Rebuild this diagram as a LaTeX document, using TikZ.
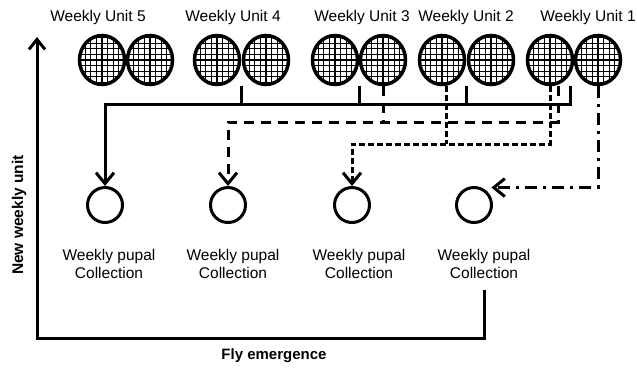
\documentclass[tikz,border=0pt]{standalone}
\usepackage{fontspec}
\setmainfont{Liberation Sans}
\usetikzlibrary{arrows.meta,shapes.geometric,calc}

\begin{document}
\begin{tikzpicture}[x=1pt, y=-1pt, line width=3pt, font=\fontsize{15.5}{18}\selectfont,
	unit/.style={ellipse, draw, line width=3.5pt, minimum width=45pt, minimum height=49pt, inner sep=0pt,
	  path picture={\draw[line width=1.3pt] ([shift={(-30pt,-30pt)}]path picture bounding box.center) grid[step=5.6pt] ([shift={(30pt,30pt)}]path picture bounding box.center);}},
	coll/.style={circle, draw, line width=3pt, minimum size=35pt, inner sep=0pt},
	tip/.style={-{Straight Barb[length=11pt,width=18pt]}},
	longdash/.style={dash pattern=on 10pt off 7pt},
	shortdash/.style={dash pattern=on 6pt off 3pt},
	dashdot/.style={dash pattern=on 12pt off 6pt on 3pt off 6pt}]
	\useasboundingbox (0,0) rectangle (637,368);
	% weekly units
	\node[unit] (u5a) at (102,60) {};
	\node[unit] (u5b) at (150,60) {};
	\node[unit] (u4a) at (217,60) {};
	\node[unit] (u4b) at (266,60) {};
	\node[unit] (u3a) at (335,60) {};
	\node[unit] (u3b) at (383,60) {};
	\node[unit] (u2a) at (442,60) {};
	\node[unit] (u2b) at (491,60) {};
	\node[unit] (u1a) at (550,60) {};
	\node[unit] (u1b) at (598,60) {};
	\node (l5) at (98,17) {Weekly Unit 5};
	\node (l4) at (233,17) {Weekly Unit 4};
	\node (l3) at (362,17) {Weekly Unit 3};
	\node (l2) at (466,17) {Weekly Unit 2};
	\node (l1) at (588,17) {Weekly Unit 1};
	% pupal collections
	\node[coll] (c1) at (105,205) {};
	\node[coll] (c2) at (228,205) {};
	\node[coll] (c3) at (352,205) {};
	\node[coll] (c4) at (474,205) {};
	\node[align=center] (p1) at (109,264) {Weekly pupal\\Collection};
	\node[align=center] (p2) at (233,264) {Weekly pupal\\Collection};
	\node[align=center] (p3) at (359,264) {Weekly pupal\\Collection};
	\node[align=center] (p4) at (484,264) {Weekly pupal\\Collection};
	% buses
	\coordinate (bus1) at (0,104);
	\coordinate (bus2) at (0,122);
	\coordinate (bus3) at (0,144);
	\coordinate (j4) at ($(u4a.south)!.5!(u4b.south)$);
	\coordinate (j3) at ($(u3a.south)!.5!(u3b.south)$);
	\coordinate (j2) at ($(u2a.south)!.5!(u2b.south)$);
	\coordinate (t1) at ([xshift=20pt]u1a.south);
	\coordinate (t2) at ([xshift=8pt]u1a.south);
	\coordinate (t3) at ([xshift=4pt]u2a.south);
	\coordinate (c4in) at ([shift={(4pt,4pt)}]c4.north east);
	\draw[tip] (t1) -- (t1 |- bus1) -- (c1 |- bus1) -- (c1.north);
	\draw (j4) -- (j4 |- bus1);
	\draw (j3) -- (j3 |- bus1);
	\draw (j2) -- (j2 |- bus1);
	\draw[tip, longdash] (t2) -- (t2 |- bus2) -- (c2 |- bus2) -- (c2.north);
	\draw[longdash] (u3b.south) -- (u3b |- bus2);
	\draw[tip, shortdash] (u1a.south) -- (u1a |- bus3) -- (c3 |- bus3) -- (c3.north);
	\draw[shortdash] (t3) -- (t3 |- bus3);
	\draw[tip, dashdot] (u1b.south) |- (c4in);
	% axes
	\coordinate (start) at ([yshift=-6pt]p4.south);
	\coordinate (corner) at (37,338);
	\coordinate (top) at (37,37);
	\draw[-{Straight Barb[length=10pt,width=16pt]}] (start) |- (corner) -- (top);
	\node[font=\fontsize{15.5}{18}\selectfont\bfseries, rotate=90] (ylab) at (19,215) {New weekly unit};
	\node[font=\fontsize{15}{18}\selectfont\bfseries] (xlab) at (274,356) {Fly emergence};
\end{tikzpicture}
\end{document}
